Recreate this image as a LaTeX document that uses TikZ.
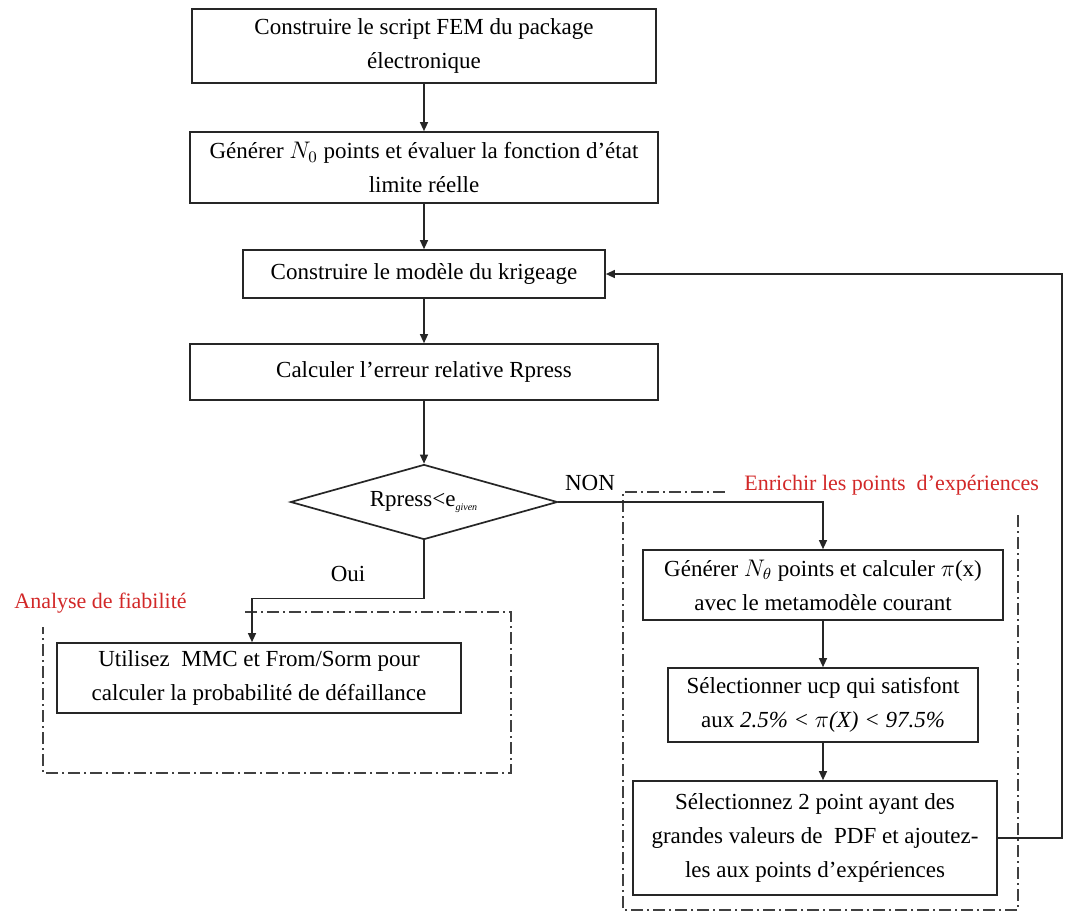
\documentclass[tikz,border=0pt]{standalone}
\usepackage{fontspec}
\setmainfont{Liberation Serif}
\usetikzlibrary{arrows.meta, shapes.geometric}
\definecolor{labelred}{RGB}{210,40,40}

\begin{document}
\begin{tikzpicture}[
  x=0.5pt, y=-0.5pt,
  font=\fontsize{11.5}{17}\selectfont,
  box/.style={
    draw=black!85,
    fill=white,
    line width=0.85pt,
    align=center,
    inner sep=2pt,
  },
  test/.style={box, diamond, aspect=3.56, inner sep=0pt,
    minimum width=133.5pt, minimum height=37.5pt},
  flow/.style={draw=black!85, line width=0.65pt, -{Triangle[length=4.5pt, width=4pt]}},
  frame/.style={draw=black!75, line width=0.6pt,
    dash pattern=on 6pt off 2pt on 1pt off 2pt},
  tag/.style={text=labelred, font=\fontsize{11}{13}\selectfont, inner sep=1pt},
]
\useasboundingbox (0,0) rectangle (1066,912);

% ---- the main column, top to bottom ---------------------------------------
\node[box, minimum width=232pt, minimum height=37pt] (fem) at (424,46)
  {Construire le script FEM du package\\ électronique};
\node[box, minimum width=234pt, minimum height=35.5pt] (gen) at (424,167.5)
  {Générer $N_0$ points et évaluer la fonction d'état\\ limite réelle};
\node[box, minimum width=181pt, minimum height=24pt] (krig) at (424,274)
  {Construire le modèle du krigeage};
\node[box, minimum width=234pt, minimum height=28pt] (err) at (424,372)
  {Calculer l'erreur relative Rpress};
\node[test] (cond) at (424,502)
  {Rpress<e\textsubscript{\tiny\itshape given}};

\draw[flow] (fem) -- (gen);
\draw[flow] (gen) -- (krig);
\draw[flow] (krig) -- (err);
\draw[flow] (err) -- (cond);

% ---- reliability branch, bottom left ---------------------------------------
% the frame stays open at its top left corner, under the red title
\draw[frame] (245,612) -- (511,612) -- (511,773) -- (43,773) -- (43,627);
\node[tag, anchor=west] (fiab) at (12,603) {Analyse de fiabilité};
\node[box, minimum width=202pt, minimum height=35pt] (mmc) at (259,678)
  {Utilisez\ \ MMC et From/Sorm pour\\ calculer la probabilité de défaillance};
\draw[flow] (cond.south) -- ++(0,58) -| ([xshift=-3.5pt]mmc.north);
\node (oui) at (348,574) {Oui};

% ---- enrichment branch, right ----------------------------------------------
\draw[frame] (1018,515) -- (1018,910) -- (623,910) -- (623,492) -- (725,492);
\node[tag, anchor=west] (enrich) at (742,485) {Enrichir les points\ \ d'expériences};
\node[box, minimum width=180pt, minimum height=35pt] (cand) at (823,585)
  {Générer $N_\theta$ points et calculer $\pi$(x)\\ avec le metamodèle courant};
\node[box, minimum width=155pt, minimum height=37pt] (ucp) at (823,705)
  {Sélectionner ucp qui satisfont\\ aux \textit{2.5\% < $\pi$(X) < 97.5\%}};
\node[box, minimum width=182pt, minimum height=57pt] (pdf) at (815,838)
  {Sélectionnez 2 point ayant des\\ grandes valeurs de\ \ PDF et ajoutez-\\ les aux points d'expériences};
\node (non) at (590,483) {NON};

\draw[flow] (cond.east) -| (cand.north);
\draw[flow] (cand) -- (ucp);
\draw[flow] (ucp.south) -- (ucp.south |- pdf.north);

% ---- loop back to the kriging model ----------------------------------------
\coordinate (back) at (1062,0);
\draw[flow] (pdf.east) -- (pdf.east -| back) |- (krig.east);

\end{tikzpicture}
\end{document}
